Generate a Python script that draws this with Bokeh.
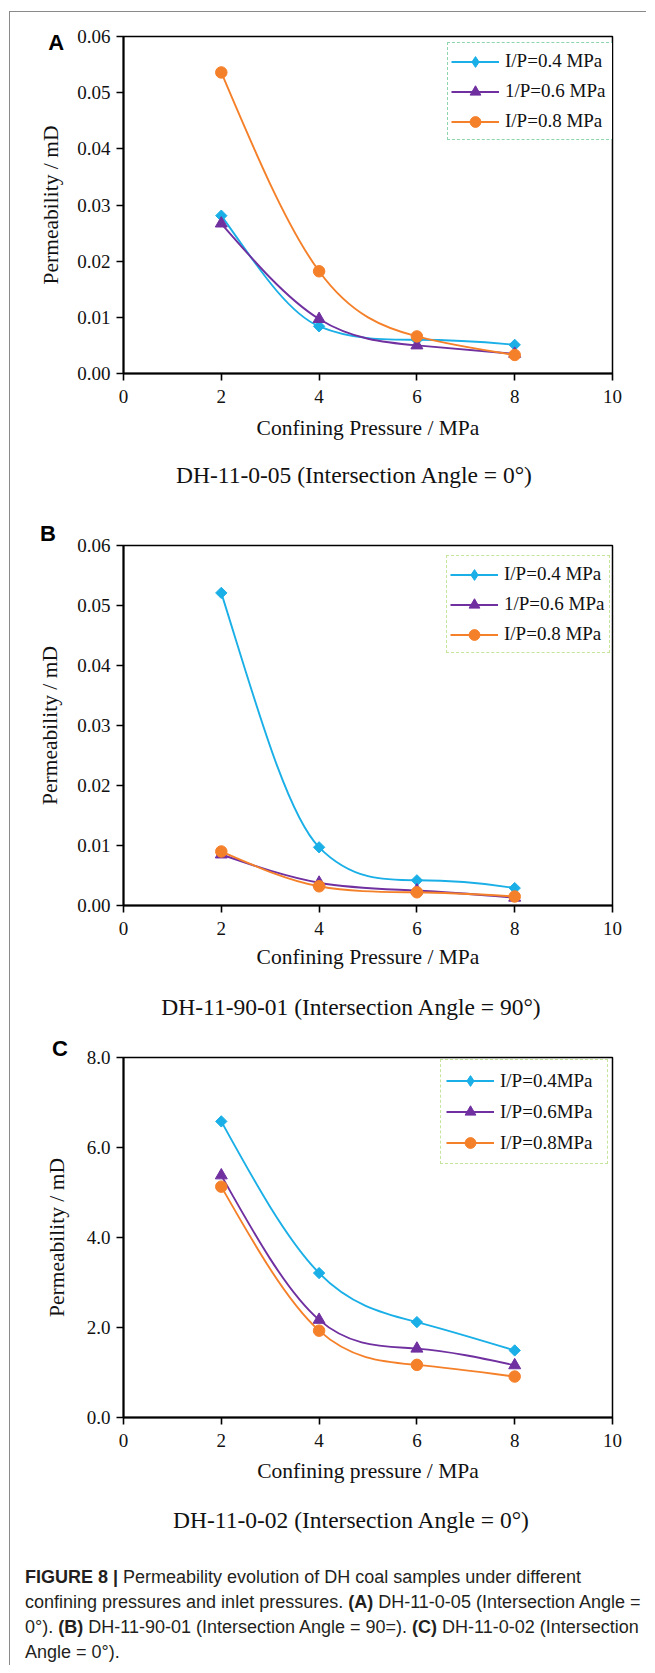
import numpy as np
from bokeh.plotting import figure
from bokeh.models import (Range1d, FixedTicker, PrintfTickFormatter, Label, Legend,
                          LegendItem, Div, ColumnDataSource)
from bokeh.layouts import column
from bokeh.embed import file_html
from bokeh.resources import INLINE

# ---------------- data ----------------
pressure = [2, 4, 6, 8]
x_ticks = [0, 2, 4, 6, 8, 10]

a_labels = ["I/P=0.4 MPa", "1/P=0.6 MPa", "I/P=0.8 MPa"]
a_ip04 = [0.0281, 0.0084, 0.0060, 0.0051]
a_ip06 = [0.0267, 0.0097, 0.0050, 0.0035]
a_ip08 = [0.0536, 0.0182, 0.0066, 0.0033]

b_labels = ["I/P=0.4 MPa", "1/P=0.6 MPa", "I/P=0.8 MPa"]
b_ip04 = [0.0521, 0.0097, 0.0042, 0.0029]
b_ip06 = [0.0085, 0.0038, 0.0025, 0.0013]
b_ip08 = [0.0090, 0.0032, 0.0022, 0.0015]

c_labels = ["I/P=0.4MPa", "I/P=0.6MPa", "I/P=0.8MPa"]
c_ip04 = [6.58, 3.21, 2.12, 1.49]
c_ip06 = [5.38, 2.17, 1.53, 1.16]
c_ip08 = [5.13, 1.93, 1.17, 0.91]

ab_yticks = [0.0, 0.01, 0.02, 0.03, 0.04, 0.05, 0.06]
c_yticks = [0.0, 2.0, 4.0, 6.0, 8.0]

# ---------------- styles ----------------
CYAN = "#1AAFE6"
PURPLE = "#7030A0"
ORANGE = "#F5802A"
SERIF = "Liberation Serif"
SANS = "Liberation Sans"


def spline_segments(x, y):
    """Smooth cubic curve through the data (natural spline tangents with a
    monotonicity limiter), returned as cubic Bezier segments."""
    x = np.asarray(x, float)
    y = np.asarray(y, float)
    n = len(x)
    h = np.diff(x)
    d = np.diff(y) / h
    A = np.zeros((n, n))
    r = np.zeros(n)
    A[0, 0] = 1.0
    A[-1, -1] = 1.0
    for i in range(1, n - 1):
        A[i, i - 1] = h[i - 1]
        A[i, i] = 2 * (h[i - 1] + h[i])
        A[i, i + 1] = h[i]
        r[i] = 6 * (d[i] - d[i - 1])
    M = np.linalg.solve(A, r)
    m = np.zeros(n)
    m[:-1] = d - h * (2 * M[:-1] + M[1:]) / 6
    m[-1] = d[-1] + h[-1] * (M[-2] + 2 * M[-1]) / 6
    for k in range(n - 1):
        if d[k] == 0:
            m[k] = m[k + 1] = 0.0
            continue
        if np.sign(m[k]) != np.sign(d[k]):
            m[k] = 0.0
        if np.sign(m[k + 1]) != np.sign(d[k]):
            m[k + 1] = 0.0
        a, b = m[k] / d[k], m[k + 1] / d[k]
        s = a * a + b * b
        if s > 9:
            t = 3 / np.sqrt(s)
            m[k] = t * a * d[k]
            m[k + 1] = t * b * d[k]
    return dict(x0=x[:-1], y0=y[:-1], x1=x[1:], y1=y[1:],
                cx0=x[:-1] + h / 3, cy0=y[:-1] + m[:-1] * h / 3,
                cx1=x[1:] - h / 3, cy1=y[1:] - m[1:] * h / 3)


def make_panel(height, bl, bt, br, bb, ymax, yticks, yfmt, series, labels,
               legend_loc, legend_pad, legend_lw, legend_lh, legend_color,
               letter, letter_xy, xtitle, xlab_standoff, ylab_standoff):
    p = figure(width=636, height=height, output_backend="svg", toolbar_location=None,
               x_range=Range1d(0, 10), y_range=Range1d(0, ymax),
               min_border_left=bl, min_border_top=bt, min_border_right=br,
               min_border_bottom=bb, margin=0)
    p.xgrid.visible = False
    p.ygrid.visible = False
    p.outline_line_color = "black"
    p.outline_line_width = 1.5
    p.background_fill_color = "white"
    p.border_fill_color = "white"

    p.xaxis.ticker = FixedTicker(ticks=x_ticks, minor_ticks=[])
    p.yaxis.ticker = FixedTicker(ticks=yticks, minor_ticks=[])
    p.yaxis.formatter = PrintfTickFormatter(format=yfmt)
    for ax in (p.xaxis[0], p.yaxis[0]):
        ax.axis_line_width = 2
        ax.axis_line_color = "black"
        ax.major_tick_line_width = 1.6
        ax.major_tick_line_color = "black"
        ax.major_tick_in = 0
        ax.major_tick_out = 7
        ax.minor_tick_out = 0
        ax.minor_tick_in = 0
        ax.major_label_text_font = SERIF
        ax.major_label_text_font_size = "19px"
        ax.major_label_text_color = "#111111"
        ax.axis_label_text_font = SERIF
        ax.axis_label_text_font_size = "21.5px"
        ax.axis_label_text_font_style = "normal"
        ax.axis_label_text_color = "#111111"
    p.xaxis.major_label_standoff = 9
    p.yaxis.major_label_standoff = 6
    p.yaxis.axis_label = "Permeability / mD"
    p.yaxis.axis_label_standoff = ylab_standoff
    p.xaxis.axis_label = xtitle
    p.xaxis.axis_label_standoff = xlab_standoff

    colors = [CYAN, PURPLE, ORANGE]
    items = []
    for k, vals in enumerate(series):
        c = colors[k]
        src = ColumnDataSource(spline_segments(pressure, vals))
        p.bezier(x0="x0", y0="y0", x1="x1", y1="y1", cx0="cx0", cy0="cy0",
                 cx1="cx1", cy1="cy1", source=src, line_color=c, line_width=1.9)
        # one-point line: draws nothing on the plot, supplies the legend's line sample
        leg_line = p.line(x=pressure[:1], y=vals[:1], line_color=c, line_width=1.9)
        if k == 0:
            leg_mark = p.scatter(pressure[:1], vals[:1], marker="diamond", size=1, color=c)
            p.scatter(pressure, vals, marker="square", size=8, angle=np.pi / 4, color=c)
        elif k == 1:
            leg_mark = p.scatter(pressure, vals, marker="triangle", size=12, color=c)
        else:
            leg_mark = p.scatter(pressure, vals, marker="circle", size=11.5, color=c)
        items.append(LegendItem(label=labels[k], renderers=[leg_line, leg_mark]))

    leg = Legend(items=items, location=legend_loc, padding=legend_pad, spacing=0,
                 glyph_width=48, glyph_height=27, label_height=legend_lh,
                 label_width=legend_lw, label_standoff=6,
                 label_text_font=SERIF, label_text_font_size="19px",
                 label_text_color="#111111",
                 border_line_color=legend_color, border_line_width=1.6,
                 border_line_dash="4 3", background_fill_color="white",
                 background_fill_alpha=1.0, margin=0)
    p.add_layout(leg)

    # panel letter: data-positioned label living in the left side panel (not clipped)
    p.add_layout(Label(x=letter_xy[0], y=letter_xy[1],
                       text=letter, text_font=SANS, text_font_style="bold",
                       text_font_size="22px", text_align="left", text_baseline="middle",
                       text_color="black"), "left")
    return p


def subtitle_div(text, center_x, height):
    inner_w = 2 * (center_x - 10)
    html = ('<div style="width:%dpx; text-align:center; white-space:nowrap; '
            'font-family:\'Liberation Serif\', serif; font-size:23.5px; color:#111; '
            'line-height:%dpx;">%s</div>' % (inner_w, height, text))
    return Div(text=html, width=636, height=height, margin=0)


pA = make_panel(440, 107, 24, 23, 79, 0.06, ab_yticks, "%.2f",
                [a_ip04, a_ip06, a_ip08], a_labels,
                (324, 233), 3, 105, 30, "#1DAF5E",
                "A", (-1.541, 0.0589), "Confining Pressure / MPa", 10, 11)
dA = subtitle_div("DH-11-0-05 (Intersection Angle = 0°)", 354, 46)

pB = make_panel(482, 113, 47, 25, 75, 0.06, ab_yticks, "%.2f",
                [b_ip04, b_ip06, b_ip08], b_labels,
                (323, 252), 3, 102, 30, "#8CCB3C",
                "B", (-1.707, 0.062), "Confining Pressure / MPa", 7, 12)
dB = subtitle_div("DH-11-90-01 (Intersection Angle = 90°)", 351, 54)

pC = make_panel(461, 103, 23, 34, 78, 8.0, c_yticks, "%.1f",
                [c_ip04, c_ip06, c_ip08], c_labels,
                (317, 253), 5, 102, 31, "#8CCB3C",
                "C", (-1.463, 8.2), "Confining pressure / MPa", 9, 15)
dC = subtitle_div("DH-11-0-02 (Intersection Angle = 0°)", 351, 50)

caption_html = (
    '<div style="font-family: \'Liberation Sans Narrow\', \'Liberation Sans\', sans-serif; '
    'font-size: 18px; line-height: 25px; color: #231f20; padding-top: 20px; padding-left: 15px; '
    'white-space: nowrap;">'
    '<b>FIGURE 8 |</b> Permeability evolution of DH coal samples under different<br>'
    'confining pressures and inlet pressures. <b>(A)</b> DH-11-0-05 (Intersection Angle =<br>'
    '0°). <b>(B)</b> DH-11-90-01 (Intersection Angle = 90=). <b>(C)</b> DH-11-0-02 (Intersection<br>'
    'Angle = 0°).</div>'
)
cap = Div(text=caption_html, width=636, height=120, margin=0)

layout = column(pA, dA, pB, dB, pC, dC, cap, margin=(11, 0, 0, 9), spacing=0,
                styles={"border-left": "1px solid #8a8a8a", "border-top": "1px solid #8a8a8a"})

open("out.html", "w").write(file_html(layout, INLINE, title="Figure 8"))
